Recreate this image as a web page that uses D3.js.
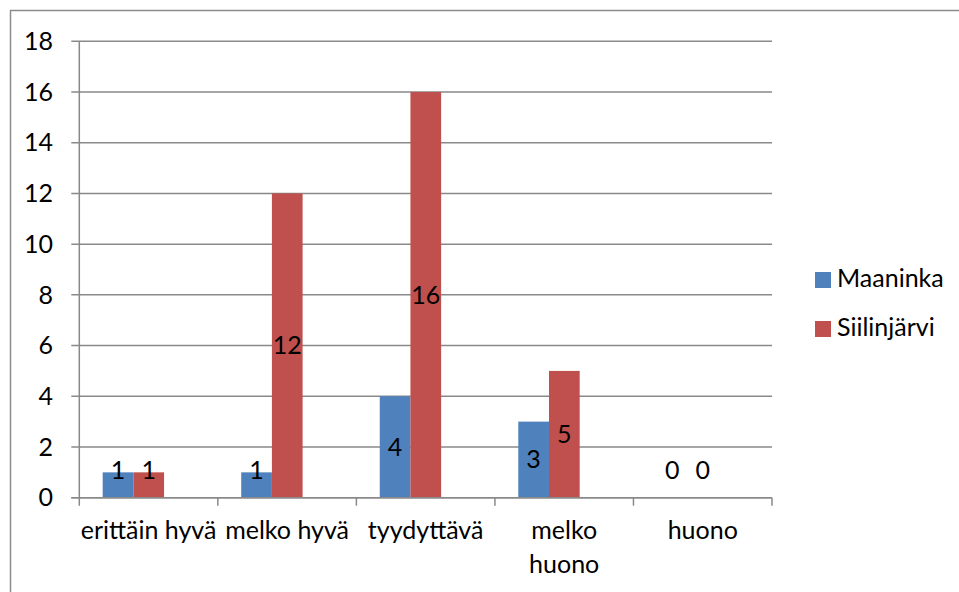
<!DOCTYPE html>
<html>
<head>
<meta charset="utf-8">
<script src="https://cdn.jsdelivr.net/npm/d3@7"></script>
<style>
  html, body { margin: 0; padding: 0; background: #fff; }
  svg { display: block; }
  text { font-family: Lato, "Open Sans", sans-serif; fill: #000; }
</style>
</head>
<body>
<svg id="chart" width="959" height="592"></svg>
<script>
// Vastausluokat ja kuntien vastausmäärät
const categories = ["erittäin hyvä", "melko hyvä", "tyydyttävä", "melko huono", "huono"];
const seriesNames = ["Maaninka", "Siilinjärvi"];
const maaninka = [1, 1, 4, 3, 0];
const siilinjarvi = [1, 12, 16, 5, 0];
const yTicks = [0, 2, 4, 6, 8, 10, 12, 14, 16, 18];
const colors = ["#4F81BD", "#C0504D"];

const values = [maaninka, siilinjarvi];
const svg = d3.select("#chart");
const fontSize = 25;
const gridColor = "#898989";

// Outer chart frame (continues past the right and bottom edges)
svg.append("rect")
  .attr("x", 10.5).attr("y", 10.5)
  .attr("width", 1000).attr("height", 1000)
  .attr("fill", "none").attr("stroke", "#8c8c8c").attr("stroke-width", 1.5);

const plotLeft = 79.3, plotRight = 772, plotTop = 41.3, plotBottom = 497.7;

const y = d3.scaleLinear().domain([0, 18]).range([plotBottom, plotTop]);
const x0 = d3.scaleBand().domain(categories).range([plotLeft, plotRight]).padding(0);
const x1 = d3.scaleBand().domain(seriesNames).range([0, x0.bandwidth()])
  .paddingInner(0).paddingOuter(1.257).align(0.303);

// Horizontal gridlines with short outward ticks
const grid = svg.append("g");
grid.selectAll("line").data(yTicks).join("line")
  .attr("x1", plotLeft - 8).attr("x2", plotRight)
  .attr("y1", d => y(d)).attr("y2", d => y(d))
  .attr("stroke", gridColor).attr("stroke-width", 1.5);

// Y tick labels
svg.append("g").selectAll("text").data(yTicks).join("text")
  .attr("x", 53).attr("y", d => y(d))
  .attr("dy", "0.35em")
  .attr("text-anchor", "end")
  .attr("font-size", fontSize)
  .text(d => d);

// Bars
const groups = svg.append("g").selectAll("g").data(categories).join("g")
  .attr("transform", c => `translate(${x0(c)},0)`);

groups.selectAll("rect")
  .data((c, i) => seriesNames.map((s, k) => ({ s, k, v: values[k][i] })))
  .join("rect")
  .attr("x", d => x1(d.s))
  .attr("width", x1.bandwidth())
  .attr("y", d => y(d.v))
  .attr("height", d => y(0) - y(d.v))
  .attr("fill", d => colors[d.k]);

// Value labels, centred in the bar but kept clear of the axis for short bars
groups.selectAll("text")
  .data((c, i) => seriesNames.map((s, k) => ({ s, k, v: values[k][i] })))
  .join("text")
  .attr("x", d => x1(d.s) + x1.bandwidth() / 2)
  .attr("y", d => Math.min((y(0) + y(d.v)) / 2, y(0) - 27))
  .attr("dy", "0.35em")
  .attr("text-anchor", "middle")
  .attr("font-size", fontSize)
  .text(d => d.v);

// Axes lines
svg.append("line")
  .attr("x1", plotLeft).attr("x2", plotLeft)
  .attr("y1", plotTop).attr("y2", plotBottom + 8)
  .attr("stroke", gridColor).attr("stroke-width", 1.5);
svg.append("line")
  .attr("x1", plotLeft - 8).attr("x2", plotRight)
  .attr("y1", plotBottom).attr("y2", plotBottom)
  .attr("stroke", gridColor).attr("stroke-width", 1.5);

// Category boundary ticks
const boundaries = categories.map(c => x0(c) + x0.bandwidth());
svg.append("g").selectAll("line").data(boundaries).join("line")
  .attr("x1", d => d).attr("x2", d => d)
  .attr("y1", plotBottom).attr("y2", plotBottom + 8)
  .attr("stroke", gridColor).attr("stroke-width", 1.5);

// Category labels (wrapped where the label is too long for its slot)
const wrapped = { "melko huono": ["melko", "huono"] };
const catLabels = svg.append("g").selectAll("text").data(categories).join("text")
  .attr("x", c => x0(c) + x0.bandwidth() / 2)
  .attr("y", 539)
  .attr("text-anchor", "middle")
  .attr("font-size", fontSize);
catLabels.each(function (c) {
  const lines = wrapped[c] || [c];
  d3.select(this).selectAll("tspan").data(lines).join("tspan")
    .attr("x", x0(c) + x0.bandwidth() / 2)
    .attr("dy", (d, i) => i === 0 ? 0 : 34)
    .text(d => d);
});

// Legend
const legend = svg.append("g").selectAll("g").data(seriesNames).join("g")
  .attr("transform", (d, i) => `translate(815,${272 + i * 49})`);
legend.append("rect")
  .attr("width", 16).attr("height", 16)
  .attr("fill", (d, i) => colors[i]);
legend.append("text")
  .attr("x", 22).attr("y", 15)
  .attr("font-size", fontSize)
  .text(d => d);
</script>
</body>
</html>
